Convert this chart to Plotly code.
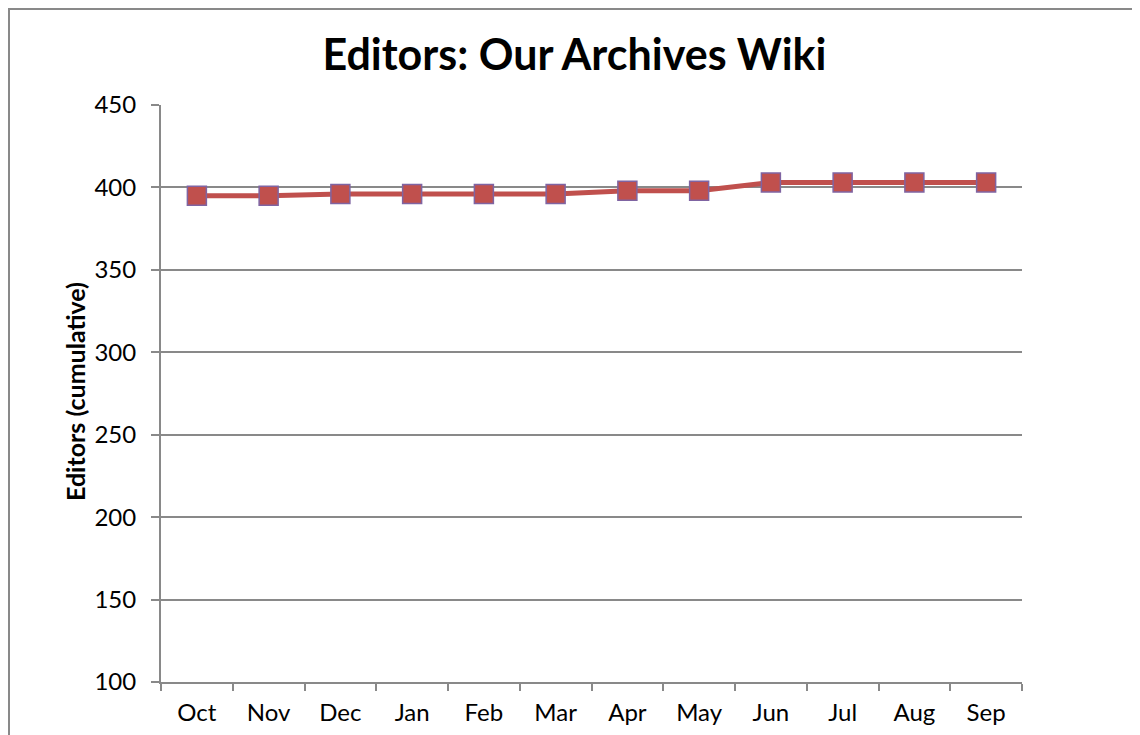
import plotly.graph_objects as go

months = ["Oct", "Nov", "Dec", "Jan", "Feb", "Mar", "Apr", "May", "Jun", "Jul", "Aug", "Sep"]
editors = [395, 395, 396, 396, 396, 396, 398, 398, 403, 403, 403, 403]
y_ticks = [100, 150, 200, 250, 300, 350, 400, 450]

FONT = "Lato"
GRID = "#898989"
OFF = 8  # page offset of the figure

W, H = 1140, 735
L, T = 161 - OFF, 105 - OFF
R = W - (1022 - OFF)
B = H - (682 - OFF)
pw, ph = W - L - R, H - T - B


def px_x(p):
    return (p - OFF - L) / pw


def px_y(p):
    return (H - B - (p - OFF)) / ph


fig = go.Figure()
fig.add_trace(go.Scatter(
    x=months, y=editors, mode="lines+markers",
    line=dict(color="#C0504D", width=5),
    marker=dict(symbol="square", size=19, color="#C0504D",
                line=dict(color="#7F64A2", width=1.5)),
    showlegend=False,
))

fig.add_shape(type="rect", xref="paper", yref="paper",
              x0=px_x(9), x1=px_x(1160), y0=px_y(760), y1=px_y(9),
              line=dict(color=GRID, width=2), fillcolor="rgba(0,0,0,0)", layer="below")

fig.add_annotation(
    text="<b>Editors (cumulative)</b>", xref="paper", yref="paper",
    x=px_x(75), y=px_y(392), xanchor="center", yanchor="middle",
    textangle=-90, showarrow=False, font=dict(family=FONT, size=25, color="black"),
)

fig.update_layout(
    width=W, height=H,
    margin=dict(l=L, r=R, t=T, b=B),
    paper_bgcolor="white", plot_bgcolor="white",
    font=dict(family=FONT, size=24, color="black"),
    title=dict(text="<b>Editors: Our Archives Wiki</b>", x=((322 + 827) / 2 - OFF) / W, xanchor="center",
               y=1 - (55 - OFF) / H, yanchor="middle", font=dict(family=FONT, size=43, color="black")),
)
fig.update_xaxes(
    type="category", showgrid=False, showline=True, linecolor=GRID, linewidth=2,
    ticks="outside", tickson="boundaries", ticklen=7, tickcolor=GRID, tickwidth=2,
    tickfont=dict(family=FONT, size=24), range=[-0.5, 11.5], ticklabelstandoff=8,
)
fig.update_yaxes(
    range=[100, 450], tickvals=y_ticks, showgrid=True, gridcolor=GRID, gridwidth=1.5,
    showline=True, linecolor=GRID, linewidth=2, ticks="outside", ticklen=8,
    tickcolor=GRID, tickwidth=2, tickfont=dict(family=FONT, size=24), zeroline=False,
    ticklabelstandoff=10,
)

fig.write_html("out.html")
